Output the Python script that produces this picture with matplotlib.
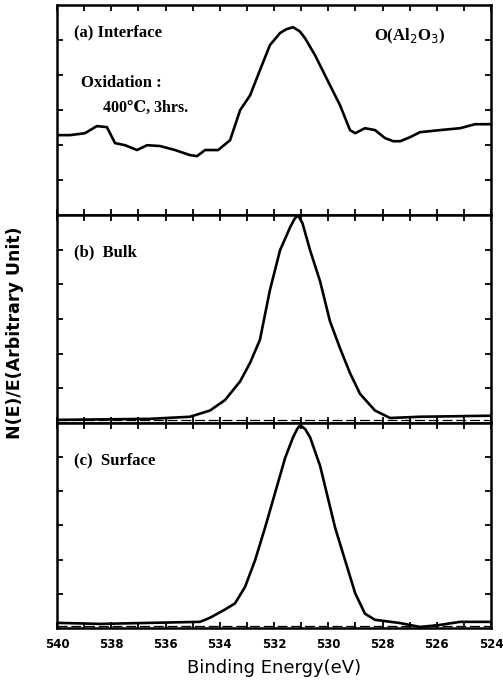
import matplotlib
matplotlib.use("Agg")
import matplotlib.pyplot as plt
from matplotlib.ticker import MultipleLocator

# (a) Interface
energy_a = [540.0, 539.52, 538.97, 538.53, 538.16, 537.86, 537.49, 537.05, 536.68, 536.20,
            535.65, 535.10, 534.84, 534.54, 534.06, 533.62, 533.25, 532.88, 532.52, 532.15,
            531.78, 531.55, 531.30, 531.05, 530.86, 530.49, 529.94, 529.57, 529.20, 529.01,
            528.65, 528.28, 527.91, 527.61, 527.35, 526.99, 526.62, 525.88, 525.14, 524.59,
            524.0]
inten_a = [0.381, 0.381, 0.390, 0.424, 0.419, 0.343, 0.333, 0.310, 0.333, 0.329,
           0.310, 0.286, 0.281, 0.310, 0.310, 0.357, 0.500, 0.571, 0.690, 0.810,
           0.867, 0.885, 0.895, 0.875, 0.843, 0.762, 0.619, 0.524, 0.405, 0.390,
           0.414, 0.405, 0.367, 0.352, 0.352, 0.371, 0.395, 0.405, 0.414, 0.433,
           0.433]

# (b) Bulk
energy_b = [540.0, 536.57, 535.10, 534.36, 533.81, 533.25, 532.88, 532.52, 532.15, 531.78,
            531.41, 531.25, 531.12, 530.95, 530.67, 530.30, 529.94, 529.57, 529.20, 528.83,
            528.28, 527.72, 526.62, 524.0]
inten_b = [0.015, 0.02, 0.03, 0.06, 0.11, 0.20, 0.29, 0.40, 0.64, 0.83,
           0.94, 0.98, 1.0, 0.96, 0.83, 0.68, 0.49, 0.36, 0.24, 0.14,
           0.06, 0.024, 0.03, 0.035]

# (c) Surface
energy_c = [540.0, 538.41, 534.73, 534.36, 533.81, 533.44, 533.07, 532.70, 532.33, 531.96,
            531.59, 531.30, 531.15, 531.04, 530.85, 530.67, 530.30, 529.75, 529.38, 529.01,
            528.65, 528.28, 527.35, 526.62, 525.88, 525.14, 524.0]
inten_c = [0.025, 0.02, 0.03, 0.05, 0.09, 0.12, 0.20, 0.33, 0.49, 0.66,
           0.83, 0.93, 0.97, 0.99, 0.97, 0.93, 0.79, 0.49, 0.33, 0.17,
           0.07, 0.04, 0.024, 0.005, 0.015, 0.03, 0.03]

x_ticks = [540, 538, 536, 534, 532, 530, 528, 526, 524]

serif = ["Liberation Serif", "DejaVu Serif"]

fig = plt.figure(figsize=(5.03, 6.94), dpi=100)
left, width = 0.1133, 0.863
boxes = [(0.690, 0.3026), (0.3905, 0.2997), (0.0951, 0.2954)]
data = [(energy_a, inten_a), (energy_b, inten_b), (energy_c, inten_c)]

axes = []
for (bottom, height), (e, v) in zip(boxes, data):
    ax = fig.add_axes([left, bottom, width, height])
    ax.plot(e, v, color="black", lw=1.9, solid_joinstyle="round")
    ax.set_xlim(540, 524)
    ax.set_ylim(0, 1.0)
    ax.set_yticks([k / 6 for k in range(1, 6)])
    ax.yaxis.set_ticklabels([])
    ax.set_xticks(x_ticks)
    ax.xaxis.set_minor_locator(MultipleLocator(1))
    ax.tick_params(which="both", direction="in", top=True, right=True,
                   length=4, width=1.3, labelbottom=False)
    for s in ax.spines.values():
        s.set_linewidth(1.8)
    axes.append(ax)

ax_a, ax_b, ax_c = axes
for ax in (ax_b, ax_c):
    ax.axhline(0.012, color="black", lw=0.9, ls=(0, (8, 3)))

ax_c.tick_params(labelbottom=True, labelsize=8.5, pad=7)
for lab in ax_c.get_xticklabels():
    lab.set_fontweight("bold")
ax_c.set_xlabel("Binding Energy(eV)", fontsize=13, labelpad=6)

fig.text(0.03, 0.52, "N(E)/E(Arbitrary Unit)", rotation=90, fontsize=12.5,
         fontweight="bold", ha="center", va="center")

ax_a.text(0.04, 0.85, "(a) Interface", transform=ax_a.transAxes, family=serif,
          fontweight="bold", fontsize=12)
ax_a.text(0.73, 0.83, "O(Al$_2$O$_3$)", transform=ax_a.transAxes, family=serif,
          fontweight="bold", fontsize=12)
ax_a.text(0.055, 0.61, "Oxidation :", transform=ax_a.transAxes, family=serif,
          fontweight="bold", fontsize=12)
ax_a.text(0.105, 0.49, "400\u2103, 3hrs.", transform=ax_a.transAxes, family=serif,
          fontweight="bold", fontsize=11.5)
ax_b.text(0.04, 0.80, "(b)  Bulk", transform=ax_b.transAxes, family=serif,
          fontweight="bold", fontsize=12)
ax_c.text(0.04, 0.80, "(c)  Surface", transform=ax_c.transAxes, family=serif,
          fontweight="bold", fontsize=12)

fig.savefig("out.png", dpi=100)
